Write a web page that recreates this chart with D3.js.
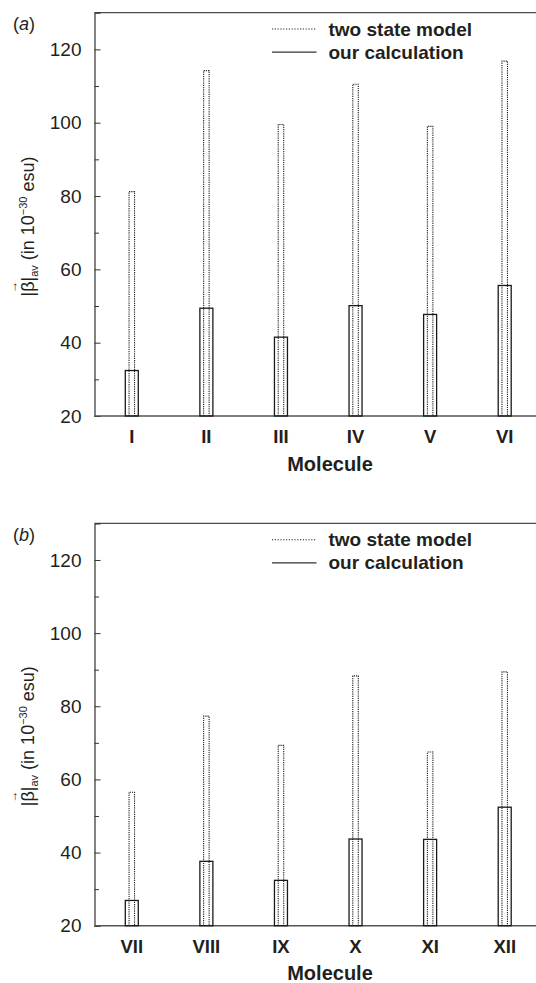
<!DOCTYPE html>
<html>
<head>
<meta charset="utf-8">
<script src="https://cdn.jsdelivr.net/npm/d3@7"></script>
<style>
  html, body { margin: 0; padding: 0; background: #fff; }
  svg { display: block; }
  text { font-family: "Liberation Sans", Arial, Helvetica, sans-serif; fill: #231f20; }
</style>
</head>
<body>
<svg id="chart" width="536" height="983"></svg>
<script>
// ---- data ----
const moleculesA = ["I", "II", "III", "IV", "V", "VI"];
const twoStateA  = [81.2, 114.2, 99.5, 110.5, 99.0, 116.8];
const ourCalcA   = [32.4, 49.4, 41.5, 50.1, 47.7, 55.6];

const moleculesB = ["VII", "VIII", "IX", "X", "XI", "XII"];
const twoStateB  = [56.5, 77.3, 69.3, 88.3, 67.5, 89.4];
const ourCalcB   = [26.9, 37.6, 32.4, 43.7, 43.6, 52.4];

const yMajorTicks = [20, 40, 60, 80, 100, 120];
const yMinorTicks = [30, 50, 70, 90, 110];
const legendLabels = ["two state model", "our calculation"];
const panelLabels = ["a", "b"];
const xTitle = "Molecule";

// ---- drawing ----
const svg = d3.select("#chart");

function drawPanel(opts) {
  const { cats, dotted, solid, top, bottom, label } = opts;
  const left = 94.5, right = 542;
  const g = svg.append("g");

  const y = d3.scaleLinear().domain([20, 130]).range([bottom, top]);
  const x = d3.scaleBand().domain(cats).range([left, right]).padding(0);
  const cx = d => x(d) + x.bandwidth() / 2;

  // frame: top line
  g.append("line").attr("x1", left).attr("x2", 536).attr("y1", top).attr("y2", top)
    .attr("stroke", "#4d4d4d").attr("stroke-width", 1.3);

  // left axis with inward ticks
  const yAxis = d3.axisLeft(y).tickValues(yMajorTicks).tickSize(-6).tickPadding(13)
    .tickFormat(d3.format("d"));
  const ya = g.append("g").attr("transform", `translate(${left},0)`).call(yAxis);
  ya.select(".domain").attr("stroke", "#333").attr("stroke-width", 1.2);
  ya.selectAll(".tick line").attr("stroke", "#333").attr("stroke-width", 1);
  ya.selectAll(".tick text").attr("font-size", 19).attr("fill", "#231f20")
    .style("font-family", "Liberation Sans, Arial, sans-serif");
  const yMinor = d3.axisLeft(y).tickValues(yMinorTicks).tickSize(-4.5).tickFormat("");
  const ym = g.append("g").attr("transform", `translate(${left},0)`).call(yMinor);
  ym.select(".domain").remove();
  ym.selectAll(".tick line").attr("stroke", "#333");

  // bottom axis
  const xAxis = d3.axisBottom(x).tickSize(0).tickPadding(14);
  const xa = g.append("g").attr("transform", `translate(0,${bottom})`).call(xAxis);
  xa.select(".domain").remove();
  g.append("line").attr("x1", left).attr("x2", 536).attr("y1", bottom).attr("y2", bottom)
    .attr("stroke", "#555").attr("stroke-width", 1.4);
  xa.selectAll(".tick text").attr("font-size", 18.5).attr("font-weight", "bold")
    .attr("fill", "#231f20").attr("dy", "0.71em")
    .style("font-family", "Liberation Sans, Arial, sans-serif");

  // our calculation bars (solid outline)
  const solidW = 13;
  g.selectAll("rect.solid").data(cats).join("rect").attr("class", "solid")
    .attr("x", d => cx(d) - solidW / 2)
    .attr("y", (d, i) => y(solid[i]))
    .attr("width", solidW)
    .attr("height", (d, i) => y(20) - y(solid[i]))
    .attr("fill", "none").attr("stroke", "#1a1a1a").attr("stroke-width", 1.3);

  // two state model bars (dotted outline)
  const dotW = 5.5;
  g.selectAll("path.dot").data(cats).join("path").attr("class", "dot")
    .attr("d", (d, i) => {
      const x0 = cx(d) - dotW / 2, x1 = cx(d) + dotW / 2, yt = y(dotted[i]), yb = y(20);
      return `M${x0},${yb}V${yt}H${x1}V${yb}`;
    })
    .attr("fill", "none").attr("stroke", "#1f1f1f").attr("stroke-width", 1.1)
    .attr("stroke-dasharray", "1.2,1");

  // legend
  const lx0 = 272, lx1 = 316.5, tx = 328.5;
  const ly = [top + 16.3, top + 39.5];
  g.append("line").attr("x1", lx0).attr("x2", lx1).attr("y1", ly[0]).attr("y2", ly[0])
    .attr("stroke", "#222").attr("stroke-width", 1.1).attr("stroke-dasharray", "1.2,1.6");
  g.append("line").attr("x1", lx0).attr("x2", lx1).attr("y1", ly[1]).attr("y2", ly[1])
    .attr("stroke", "#333").attr("stroke-width", 1.2);
  legendLabels.forEach((t, i) => {
    g.append("text").attr("x", tx).attr("y", ly[i] + 6.5).attr("font-size", 19)
      .attr("font-weight", "bold").text(t);
  });

  // panel label
  const pl = g.append("text").attr("x", 13).attr("y", top + 17.5).attr("font-size", 18);
  pl.append("tspan").text("(");
  pl.append("tspan").attr("font-style", "italic").text(label);
  pl.append("tspan").text(")");

  // x title
  g.append("text").attr("x", 330).attr("y", bottom + 54.5).attr("text-anchor", "middle")
    .attr("font-size", 20).attr("font-weight", "bold").text(xTitle);

  // y title
  const cy = bottom - 189.5;
  const tg = g.append("g").attr("transform", `translate(34,${cy}) rotate(-90)`);
  const tt = tg.append("text").attr("text-anchor", "middle").attr("font-size", 18);
  tt.append("tspan").text("|β|");
  tt.append("tspan").attr("font-size", 11).attr("dy", 4).text("av");
  tt.append("tspan").attr("dy", -4).text(" (in 10");
  tt.append("tspan").attr("font-size", 11).attr("dy", -7).text("−30");
  tt.append("tspan").attr("dy", 7).text(" esu)");
  const node = tt.node();
  const s = node.getStartPositionOfChar(1), e = node.getEndPositionOfChar(1);
  tg.append("text").attr("x", (s.x + e.x) / 2).attr("y", -17.5).attr("text-anchor", "middle")
    .attr("font-size", 12).text("→");
}

drawPanel({ cats: moleculesA, dotted: twoStateA, solid: ourCalcA, top: 12.7, bottom: 416, label: panelLabels[0] });
drawPanel({ cats: moleculesB, dotted: twoStateB, solid: ourCalcB, top: 523.4, bottom: 925.7, label: panelLabels[1] });
</script>
</body>
</html>
